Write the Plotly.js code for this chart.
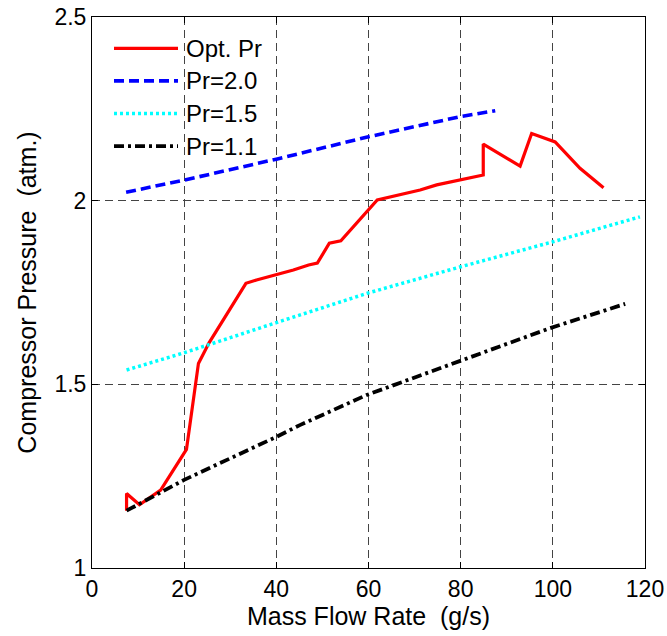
<!DOCTYPE html>
<html>
<head>
<meta charset="utf-8">
<script src="https://cdn.plot.ly/plotly-3.0.1.min.js"></script>
<style>html,body{margin:0;padding:0;background:#fff;}#chart{width:667px;height:636px;}</style>
</head>
<body>
<div id="chart"></div>
<script>
// Opt. Pr (red solid)
const optX = [7.5, 7.5, 10.3, 14.9, 20.5, 23.1, 25.4, 33.4, 35.7, 39.7, 43.7, 47.0, 48.9, 51.5, 54.0, 61.9, 71.2, 74.8, 84.9, 84.9, 92.9, 95.4, 100.5, 105.9, 111.0];
const optY = [1.156, 1.203, 1.172, 1.212, 1.323, 1.557, 1.613, 1.775, 1.784, 1.798, 1.811, 1.825, 1.830, 1.884, 1.891, 2.002, 2.029, 2.043, 2.070, 2.154, 2.094, 2.183, 2.160, 2.088, 2.035];
// Pr=2.0 (blue dashed)
const pr20X = [7.4, 20, 40, 60, 80, 87.5];
const pr20Y = [2.023, 2.056, 2.113, 2.174, 2.229, 2.245];
// Pr=1.5 (cyan dotted)
const pr15X = [7.5, 20, 40, 60, 80, 100, 118.9];
const pr15Y = [1.539, 1.586, 1.668, 1.749, 1.820, 1.888, 1.956];
// Pr=1.1 (black dash-dot)
const pr11X = [7.5, 20, 40, 45.1, 59.6, 79.6, 99.4, 115.7];
const pr11Y = [1.156, 1.240, 1.357, 1.389, 1.471, 1.562, 1.653, 1.719];

const seriesNames = ['Opt. Pr', 'Pr=2.0', 'Pr=1.5', 'Pr=1.1'];
const xTicks = [0, 20, 40, 60, 80, 100, 120];
const yTicks = [1, 1.5, 2, 2.5];
const yTickText = ['1', '1.5', '2', '2.5'];

const font = 'Liberation Sans, Arial, Helvetica, sans-serif';
const lineStyles = [
  {color: '#ff0000', width: 3.2},
  {color: '#0000ff', width: 3.6, dash: '10px,5px'},
  {color: '#00ffff', width: 3.5, dash: '3px,3px'},
  {color: '#000000', width: 3.8, dash: '10px,4px,3px,4px'}
];

const xs = [optX, pr20X, pr15X, pr11X];
const ys = [optY, pr20Y, pr15Y, pr11Y];
const traces = seriesNames.map((n, i) => ({
  x: xs[i], y: ys[i], name: n, mode: 'lines', line: lineStyles[i], showlegend: false
}));

// legend drawn inside the plot (MATLAB style: long line samples, no box)
const W = 553, H = 551;
const legTop = 48.3, legStep = 32.6;
const shapes = [], annotations = [];
seriesNames.forEach((n, i) => {
  const py = legTop + i * legStep;
  const yPaper = 1 - (py - 17) / H;
  shapes.push({type: 'line', xref: 'paper', yref: 'paper',
    x0: (114 - 92) / W, x1: (178 - 92) / W, y0: yPaper, y1: yPaper,
    line: lineStyles[i]});
  annotations.push({xref: 'paper', yref: 'paper', x: (184 - 92) / W, y: yPaper,
    xanchor: 'left', yanchor: 'middle', text: n, showarrow: false,
    font: {family: font, size: 24, color: '#000'}});
});

const axisCommon = {
  showline: true, linecolor: '#000', linewidth: 1, mirror: 'ticks',
  ticks: 'inside', ticklen: 6, tickcolor: '#000', tickwidth: 1,
  showgrid: true, gridcolor: '#444', gridwidth: 1, griddash: '8px,5px',
  zeroline: false,
  tickfont: {family: font, size: 23, color: '#000'}
};

const layout = {
  width: 667, height: 636,
  margin: {l: 92, r: 22, t: 17, b: 68},
  paper_bgcolor: '#fff', plot_bgcolor: '#fff',
  showlegend: false,
  shapes: shapes,
  annotations: annotations,
  xaxis: Object.assign({}, axisCommon, {
    range: [0, 120], tickvals: xTicks, ticktext: xTicks.map(String),
    title: {text: 'Mass Flow Rate\u00a0 (g/s)', font: {family: font, size: 25, color: '#000'}, standoff: 2}
  }),
  yaxis: Object.assign({}, axisCommon, {
    range: [1, 2.5], tickvals: yTicks, ticktext: yTickText,
    title: {text: 'Compressor Pressure\u00a0 (atm.)', font: {family: font, size: 25, color: '#000'}, standoff: 10}
  })
};

Plotly.newPlot('chart', traces, layout, {displayModeBar: false, staticPlot: true});
</script>
</body>
</html>
